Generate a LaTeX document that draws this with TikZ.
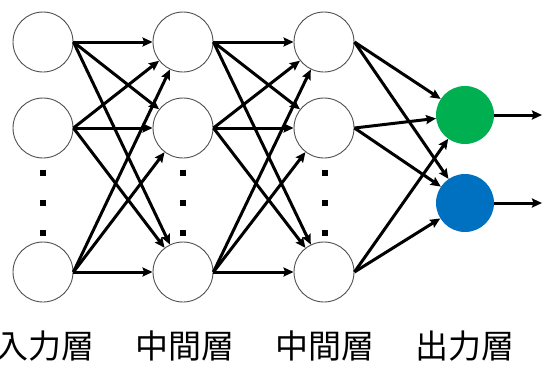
\documentclass[tikz,border=0pt]{standalone}
\usepackage{fontspec}
\newfontfamily\cjk{Noto Sans CJK JP}
\usetikzlibrary{arrows.meta}
\definecolor{outgreen}{HTML}{00B050}
\definecolor{outblue}{HTML}{0070C0}
\definecolor{ringgray}{HTML}{505050}
\tikzset{
  neuron/.style={circle, draw=ringgray, line width=0.9pt, fill=white, minimum size=60pt, inner sep=0pt},
  outneuron/.style={circle, draw=none, minimum size=58pt, inner sep=0pt},
  conn/.style={line width=3pt, -{Stealth[length=10pt,width=9pt,inset=1.5pt]}},
  vdot/.style={rectangle, fill=black, minimum size=5.5pt, inner sep=0pt},
  layerlabel/.style={font=\cjk\fontsize{33}{33}\selectfont, inner sep=0pt}
}
\begin{document}
\begin{tikzpicture}[x=1pt,y=-1pt]
\useasboundingbox (0,0) rectangle (547,367);
% layer 1
\node[neuron] (a1) at (43,42) {};
\node[neuron] (a2) at (43,128) {};
\node[neuron] (a3) at (43,272) {};
% layer 2
\node[neuron] (b1) at (183,42) {};
\node[neuron] (b2) at (183,128) {};
\node[neuron] (b3) at (183,272) {};
% layer 3
\node[neuron] (c1) at (324,42) {};
\node[neuron] (c2) at (324,128) {};
\node[neuron] (c3) at (324,272) {};
% output
\node[outneuron, fill=outgreen] (o1) at (465,115) {};
\node[outneuron, fill=outblue] (o2) at (465,203) {};
\coordinate (e1) at (542,115);
\coordinate (e2) at (542,203);
% dots
\foreach \col/\xx in {a/43,b/183,c/325}{
  \node[vdot] (\col d1) at (\xx,173) {};
  \node[vdot] (\col d2) at (\xx,203) {};
  \node[vdot] (\col d3) at (\xx,233) {};
}
% connections
\foreach \i in {1,2,3}{
  \foreach \j in {1,2,3}{
    \draw[conn] (a\i.east) -- (b\j);
    \draw[conn] (b\i.east) -- (c\j);
  }
  \foreach \j in {1,2}{
    \draw[conn] (c\i.east) -- (o\j);
  }
}
\draw[conn] (o1.east) -- (e1);
\draw[conn] (o2.east) -- (e2);
% labels
\node[layerlabel] (l1) at (45,346) {入力層};
\node[layerlabel] (l2) at (185,346) {中間層};
\node[layerlabel] (l3) at (325,346) {中間層};
\node[layerlabel] (l4) at (465,346) {出力層};
\end{tikzpicture}
\end{document}
